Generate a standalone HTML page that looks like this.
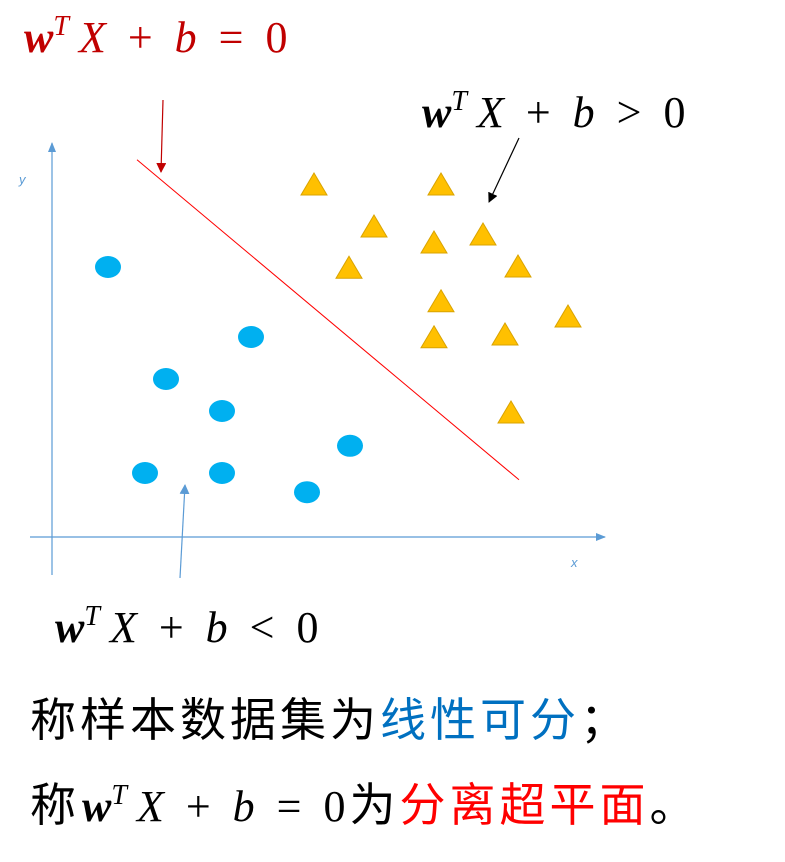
<!DOCTYPE html>
<html><head><meta charset="utf-8">
<style>
html,body{margin:0;padding:0;background:#fff;}
body{width:785px;height:862px;position:relative;overflow:hidden;}
.m{position:absolute;font-family:"Liberation Serif",serif;font-size:44px;white-space:nowrap;}
.m i,.f i{font-style:italic;}
.m b,.f b{font-style:italic;font-weight:bold;}
.m sup,.f sup{font-size:28px;font-style:italic;vertical-align:0;position:relative;top:-17px;margin-right:10px;}
.op{margin:0 0.5em;}
.f{font-family:"Liberation Serif",serif;font-size:44px;letter-spacing:0;margin:0 4px 0 2px;}
.cn{position:absolute;left:30px;font-family:"Liberation Sans","Noto Sans CJK SC",sans-serif;font-size:46px;letter-spacing:4px;white-space:nowrap;color:#000;}
</style></head>
<body>
<div class="m" style="left:24px;top:12px;color:#c00000;"><b>w</b><sup>T</sup><i>X</i><span class="op">+</span><i>b</i><span class="op">=</span>0</div>
<div class="m" style="left:422px;top:87px;color:#000;"><b>w</b><sup>T</sup><i>X</i><span class="op">+</span><i>b</i><span class="op">&gt;</span>0</div>
<div class="m" style="left:55px;top:602px;color:#000;"><b>w</b><sup>T</sup><i>X</i><span class="op">+</span><i>b</i><span class="op">&lt;</span>0</div>
<div class="cn" style="top:684px;">称样本数据集为<span style="color:#0070c0">线性可分</span>；</div>
<div class="cn" style="top:769px;">称<span class="f"><b>w</b><sup>T</sup><i>X</i><span class="op">+</span><i>b</i><span class="op">=</span>0</span>为<span style="color:#ff0000">分离超平面</span>。</div>
<svg id="chart" width="785" height="862" style="position:absolute;left:0;top:0;">
<defs>
<marker id="ab" markerWidth="10" markerHeight="8" refX="9" refY="4" orient="auto" markerUnits="userSpaceOnUse"><path d="M0,0L10,4L0,8z" fill="#5b9bd5"/></marker>
<marker id="ar" markerWidth="10" markerHeight="10" refX="9" refY="5" orient="auto" markerUnits="userSpaceOnUse"><path d="M0,0L10,5L0,10z" fill="#c00000"/></marker>
<marker id="ak" markerWidth="10" markerHeight="10" refX="9" refY="5" orient="auto" markerUnits="userSpaceOnUse"><path d="M0,0L10,5L0,10z" fill="#000"/></marker>
<marker id="al" markerWidth="10" markerHeight="10" refX="9" refY="5" orient="auto" markerUnits="userSpaceOnUse"><path d="M0,0L10,5L0,10z" fill="#5b9bd5"/></marker>
</defs>
<line x1="52" y1="575" x2="52" y2="143" stroke="#5b9bd5" stroke-width="1.2" marker-end="url(#ab)"/>
<line x1="30" y1="537" x2="605" y2="537" stroke="#5b9bd5" stroke-width="1.2" marker-end="url(#ab)"/>
<text x="19" y="184" font-family="Liberation Sans,sans-serif" font-style="italic" font-size="13" fill="#5b9bd5">y</text>
<text x="571" y="567" font-family="Liberation Sans,sans-serif" font-style="italic" font-size="13" fill="#5b9bd5">x</text>
<line x1="163" y1="100" x2="161" y2="172" stroke="#c00000" stroke-width="1.2" marker-end="url(#ar)"/>
<line x1="519" y1="138" x2="489" y2="202" stroke="#000" stroke-width="1.2" marker-end="url(#ak)"/>
<line x1="180" y1="578" x2="185" y2="485" stroke="#5b9bd5" stroke-width="1.2" marker-end="url(#al)"/>
<g id="marks"></g>
</svg>
<script>
const circleX=[1.12,3.98,2.28,3.4,5.96,1.86,3.4,5.1];
const circleY=[6.75,5.0,3.95,3.15,2.28,1.6,1.6,1.12];
const triX=[5.24,7.78,6.44,7.64,8.62,5.94,9.32,7.78,10.32,7.64,9.06,9.18];
const triY=[8.8,8.8,7.75,7.35,7.55,6.72,6.75,5.88,5.5,4.98,5.05,3.1];
const lineX=[1.7,9.34];
const lineY=[9.43,1.43];
function xs(v){return 52+v*50;}
function ys(v){return 537-v*40;}
const g=document.getElementById('marks');
const NS='http://www.w3.org/2000/svg';
const ln=document.createElementNS(NS,'line');
ln.setAttribute('x1',xs(lineX[0]));ln.setAttribute('y1',ys(lineY[0]));
ln.setAttribute('x2',xs(lineX[1]));ln.setAttribute('y2',ys(lineY[1]));
ln.setAttribute('stroke','#ff0000');ln.setAttribute('stroke-width','1');


g.appendChild(ln);
circleX.forEach((v,i)=>{
  const e=document.createElementNS(NS,'ellipse');
  e.setAttribute('cx',xs(v));e.setAttribute('cy',ys(circleY[i]));
  e.setAttribute('rx',13);e.setAttribute('ry',11);e.setAttribute('fill','#00b0f0');
  
  
  g.appendChild(e);
});
triX.forEach((v,i)=>{
  const cx=xs(v),cy=ys(triY[i]);
  const p=document.createElementNS(NS,'polygon');
  p.setAttribute('points',`${cx},${cy-12} ${cx+13},${cy+10} ${cx-13},${cy+10}`);
  p.setAttribute('fill','#ffc000');p.setAttribute('stroke','#d9a300');p.setAttribute('stroke-width','1');
  
  
  g.appendChild(p);
});
</script>
</body></html>
